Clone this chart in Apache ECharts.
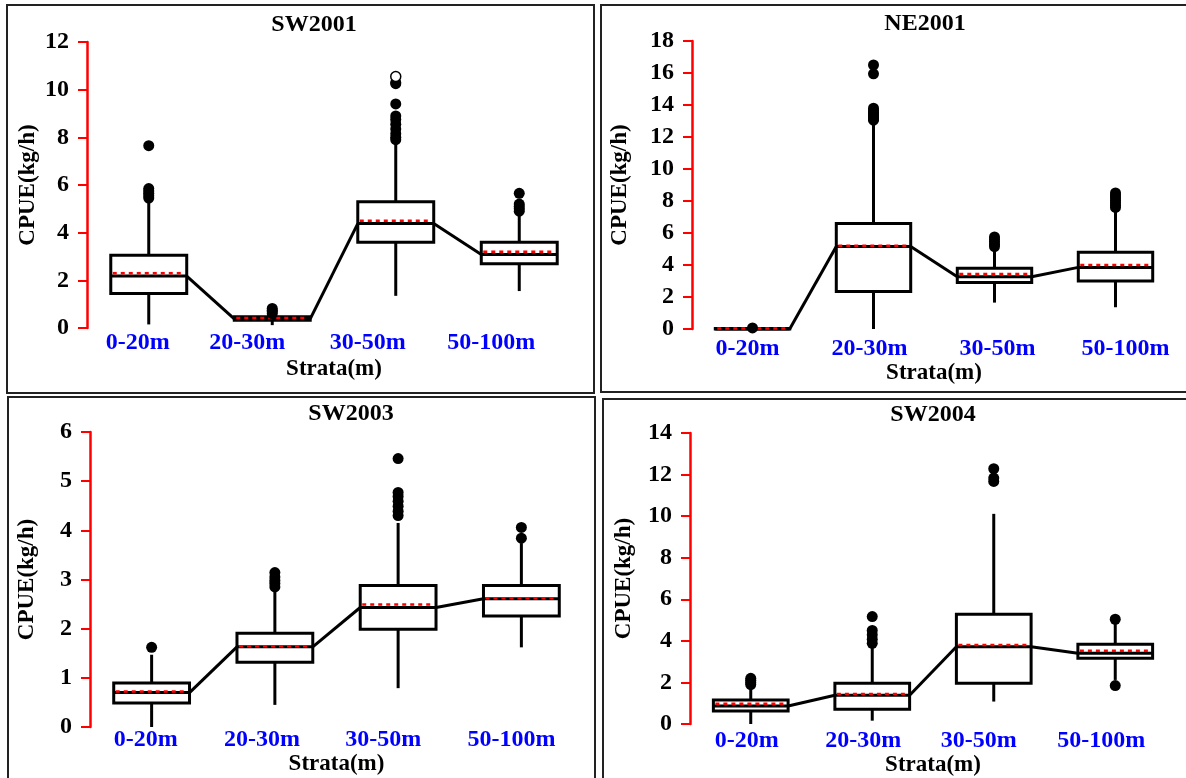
<!DOCTYPE html>
<html>
<head>
<meta charset="utf-8">
<script src="https://cdn.jsdelivr.net/npm/echarts@6/dist/echarts.min.js"></script>
<style>
  html, body { margin: 0; padding: 0; background: #fff; }
  #chart { width: 1186px; height: 778px; }
</style>
</head>
<body>
<div id="chart"></div>
<script>
// ---------------- DATA ----------------
const categories = ['0-20m', '20-30m', '30-50m', '50-100m'];
const panelTitles = ['SW2001', 'NE2001', 'SW2003', 'SW2004'];
const yAxisName = 'CPUE(kg/h)';
const xAxisName = 'Strata(m)';

// SW2001
const sw01Low    = [0.15, 0.12, 1.35, 1.55];
const sw01Q1     = [1.45, 0.33, 3.60, 2.70];
const sw01Median = [2.18, 0.38, 4.38, 3.08];
const sw01Q3     = [3.05, 0.47, 5.30, 3.60];
const sw01High   = [5.35, 0.55, 7.85, 4.85];
const sw01Mean   = [2.30, 0.42, 4.50, 3.20];
const sw01Outliers = [[0,5.45],[0,5.55],[0,5.65],[0,5.75],[0,5.85],[0,7.65],
  [1,0.60],[1,0.68],[1,0.75],[1,0.82],
  [2,7.90],[2,8.00],[2,8.15],[2,8.35],[2,8.55],[2,8.75],[2,8.90],[2,9.40],[2,10.25],[2,10.30],
  [3,4.90],[3,5.00],[3,5.10],[3,5.20],[3,5.65]];
const sw01Hollow = [[2,10.55]];

// NE2001
const ne01Low    = [0.00, 0.00, 1.65, 1.36];
const ne01Q1     = [0.00, 2.35, 2.90, 3.00];
const ne01Median = [0.00, 5.15, 3.27, 3.85];
const ne01Q3     = [0.03, 6.60, 3.79, 4.79];
const ne01High   = [0.03, 12.90, 5.00, 7.45];
const ne01Mean   = [0.03, 5.20, 3.44, 4.00];
const ne01Outliers = [[0,0.07],
  [1,13.05],[1,13.15],[1,13.25],[1,13.35],[1,13.45],[1,13.55],[1,13.65],[1,13.80],[1,15.95],[1,16.50],
  [2,5.15],[2,5.30],[2,5.45],[2,5.60],[2,5.75],
  [3,7.60],[3,7.75],[3,7.90],[3,8.05],[3,8.20],[3,8.35],[3,8.50]];
const ne01Hollow = [];

// SW2003
const sw03Low    = [0.00, 0.45, 0.79, 1.62];
const sw03Q1     = [0.49, 1.315, 1.99, 2.26];
const sw03Median = [0.70, 1.63, 2.43, 2.61];
const sw03Q3     = [0.895, 1.905, 2.88, 2.88];
const sw03High   = [1.47, 2.80, 4.15, 3.74];
const sw03Mean   = [0.72, 1.64, 2.49, 2.62];
const sw03Outliers = [[0,1.62],
  [1,2.85],[1,2.92],[1,2.98],[1,3.05],[1,3.14],
  [2,4.30],[2,4.39],[2,4.49],[2,4.59],[2,4.69],[2,4.77],[2,5.46],
  [3,3.84],[3,4.06]];
const sw03Hollow = [];

// SW2004
const sw04Low    = [0.00, 0.16, 1.08, 2.12];
const sw04Q1     = [0.63, 0.71, 1.96, 3.16];
const sw04Median = [0.87, 1.38, 3.72, 3.40];
const sw04Q3     = [1.16, 1.96, 5.28, 3.84];
const sw04High   = [1.80, 3.70, 10.11, 4.85];
const sw04Mean   = [0.98, 1.44, 3.80, 3.53];
const sw04Outliers = [[0,1.90],[0,2.00],[0,2.10],[0,2.20],
  [1,3.88],[1,4.08],[1,4.29],[1,4.50],[1,5.17],
  [2,11.67],[2,11.83],[2,12.28],
  [3,5.04],[3,1.85]];
const sw04Hollow = [];

// y axis ticks (max, interval)
const yMaxes = [12, 18, 6, 14];
const yIntervals = [2, 2, 1, 2];

// ---------------- LAYOUT / STYLE ----------------
const FONT = 'Liberation Serif';
const BOX_RATIO = 0.615;
const panels = [
  { low: sw01Low, q1: sw01Q1, med: sw01Median, q3: sw01Q3, high: sw01High, mean: sw01Mean, out: sw01Outliers, hollow: sw01Hollow,
    grid: { left: 87, top: 42, width: 494, height: 286 }, titleX: 314, titleTop: 13,
    labelMargin: 3, xNameGap: 30, yNameGap: 47, shifts: [-11, -25, -28, -28] },
  { low: ne01Low, q1: ne01Q1, med: ne01Median, q3: ne01Q3, high: ne01High, mean: ne01Mean, out: ne01Outliers, hollow: ne01Hollow,
    grid: { left: 692, top: 41, width: 484, height: 288 }, titleX: 925, titleTop: 12,
    labelMargin: 8, xNameGap: 31, yNameGap: 60, shifts: [-5, -4, 3, 10] },
  { low: sw03Low, q1: sw03Q1, med: sw03Median, q3: sw03Q3, high: sw03High, mean: sw03Mean, out: sw03Outliers, hollow: sw03Hollow,
    grid: { left: 90, top: 432, width: 493, height: 295 }, titleX: 351, titleTop: 402,
    labelMargin: 1, xNameGap: 21, yNameGap: 51, shifts: [-6, -13, -15, -10] },
  { low: sw04Low, q1: sw04Q1, med: sw04Median, q3: sw04Q3, high: sw04High, mean: sw04Mean, out: sw04Outliers, hollow: sw04Hollow,
    grid: { left: 690, top: 433, width: 486, height: 291 }, titleX: 933, titleTop: 403,
    labelMargin: 5, xNameGap: 26, yNameGap: 54, shifts: [-4, -9, -15, -14] }
];

function boxRender(params, api) {
  const idx = api.value(0);
  const bw = api.size([1, 0])[0] * BOX_RATIO;
  const x = api.coord([idx, 0])[0];
  const yLow = api.coord([idx, api.value(1)])[1];
  const yQ1 = api.coord([idx, api.value(2)])[1];
  const yMed = api.coord([idx, api.value(3)])[1];
  const yQ3 = api.coord([idx, api.value(4)])[1];
  const yHigh = api.coord([idx, api.value(5)])[1];
  const yMean = api.coord([idx, api.value(6)])[1];
  const black = { stroke: '#000', lineWidth: 3 };
  return {
    type: 'group',
    children: [
      { type: 'line', shape: { x1: x, y1: yQ1, x2: x, y2: yLow }, style: black },
      { type: 'line', shape: { x1: x, y1: yQ3, x2: x, y2: yHigh }, style: black },
      { type: 'rect', shape: { x: x - bw / 2, y: yQ3, width: bw, height: yQ1 - yQ3 },
        style: { fill: '#fff', stroke: '#000', lineWidth: 3 } },
      { type: 'line', shape: { x1: x - bw / 2, y1: yMed, x2: x + bw / 2, y2: yMed }, style: black },
      { type: 'line', shape: { x1: x - bw / 2 + 2, y1: yMean, x2: x + bw / 2 - 2, y2: yMean },
        style: { stroke: '#ff0000', lineWidth: 2.5, lineDash: [4, 4] } }
    ]
  };
}

function connectorRender(params, api) {
  const idx = api.value(0);
  const bw = api.size([1, 0])[0] * BOX_RATIO;
  const p1 = api.coord([idx, api.value(1)]);
  const p2 = api.coord([idx + 1, api.value(2)]);
  return {
    type: 'line',
    shape: { x1: p1[0] + bw / 2, y1: p1[1], x2: p2[0] - bw / 2, y2: p2[1] },
    style: { stroke: '#000', lineWidth: 3 }
  };
}

const grids = [], xAxes = [], yAxes = [], series = [], titles = [], graphics = [];

panels.forEach((p, i) => {
  grids.push(Object.assign({}, p.grid));
  const rich = {};
  p.shifts.forEach((s, k) => {
    rich['s' + k] = {
      fontFamily: FONT, fontWeight: 'bold', fontSize: 24, color: '#0000ff',
      padding: s < 0 ? [0, -2 * s, 0, 0] : [0, 0, 0, 2 * s]
    };
  });
  xAxes.push({
    type: 'category', gridIndex: i, data: categories,
    axisLine: { show: false }, axisTick: { show: false }, splitLine: { show: false },
    axisLabel: {
      margin: p.labelMargin, interval: 0,
      formatter: (v, k) => '{s' + k + '|' + v + '}', rich: rich
    },
    name: xAxisName, nameLocation: 'middle', nameGap: p.xNameGap,
    nameTextStyle: { fontFamily: FONT, fontWeight: 'bold', fontSize: 23, color: '#000' }
  });
  yAxes.push({
    type: 'value', gridIndex: i, min: 0, max: yMaxes[i], interval: yIntervals[i],
    axisLine: { show: true, lineStyle: { color: '#ff0000', width: 2.5 } },
    axisTick: { show: true, length: 9, lineStyle: { color: '#ff0000', width: 2 } },
    splitLine: { show: false },
    axisLabel: { margin: 18, fontFamily: FONT, fontWeight: 'bold', fontSize: 24, color: '#000' },
    name: yAxisName, nameLocation: 'middle', nameGap: p.yNameGap, nameRotate: 90,
    nameTextStyle: { fontFamily: FONT, fontWeight: 'bold', fontSize: 23, color: '#000' }
  });
  const boxData = categories.map((c, k) => [k, p.low[k], p.q1[k], p.med[k], p.q3[k], p.high[k], p.mean[k]]);
  const connData = [];
  for (let k = 0; k < categories.length - 1; k++) connData.push([k, p.med[k], p.med[k + 1]]);
  series.push({
    type: 'custom', xAxisIndex: i, yAxisIndex: i, renderItem: connectorRender,
    encode: { x: 0, y: [1, 2] }, data: connData, z: 2, silent: true
  });
  series.push({
    type: 'custom', xAxisIndex: i, yAxisIndex: i, renderItem: boxRender,
    encode: { x: 0, y: [1, 2, 3, 4, 5, 6] }, data: boxData, z: 3, silent: true
  });
  series.push({
    type: 'scatter', xAxisIndex: i, yAxisIndex: i, data: p.out, symbol: 'circle', symbolSize: 11,
    itemStyle: { color: '#000', opacity: 1 }, z: 4, silent: true
  });
  if (p.hollow.length) {
    series.push({
      type: 'scatter', xAxisIndex: i, yAxisIndex: i, data: p.hollow, symbol: 'circle', symbolSize: 10,
      itemStyle: { color: '#fff', borderColor: '#000', borderWidth: 1.5, opacity: 1 }, z: 5, silent: true
    });
  }
  titles.push({
    text: panelTitles[i], left: p.titleX, top: p.titleTop, textAlign: 'center', padding: 0,
    textStyle: { fontFamily: FONT, fontWeight: 'bold', fontSize: 24, color: '#000' }
  });
});

// panel frames
[[7, 5, 587, 388], [601, 5, 620, 387], [8, 397, 587, 420], [603, 399, 620, 420]].forEach(r => {
  graphics.push({ type: 'rect', shape: { x: r[0], y: r[1], width: r[2], height: r[3] },
    style: { fill: 'none', stroke: '#222', lineWidth: 2 }, silent: true, z: -10 });
});

const chart = echarts.init(document.getElementById('chart'), null, { renderer: 'canvas' });
chart.setOption({
  animation: false,
  backgroundColor: '#fff',
  title: titles,
  grid: grids,
  xAxis: xAxes,
  yAxis: yAxes,
  series: series,
  graphic: graphics
});
</script>
</body>
</html>
